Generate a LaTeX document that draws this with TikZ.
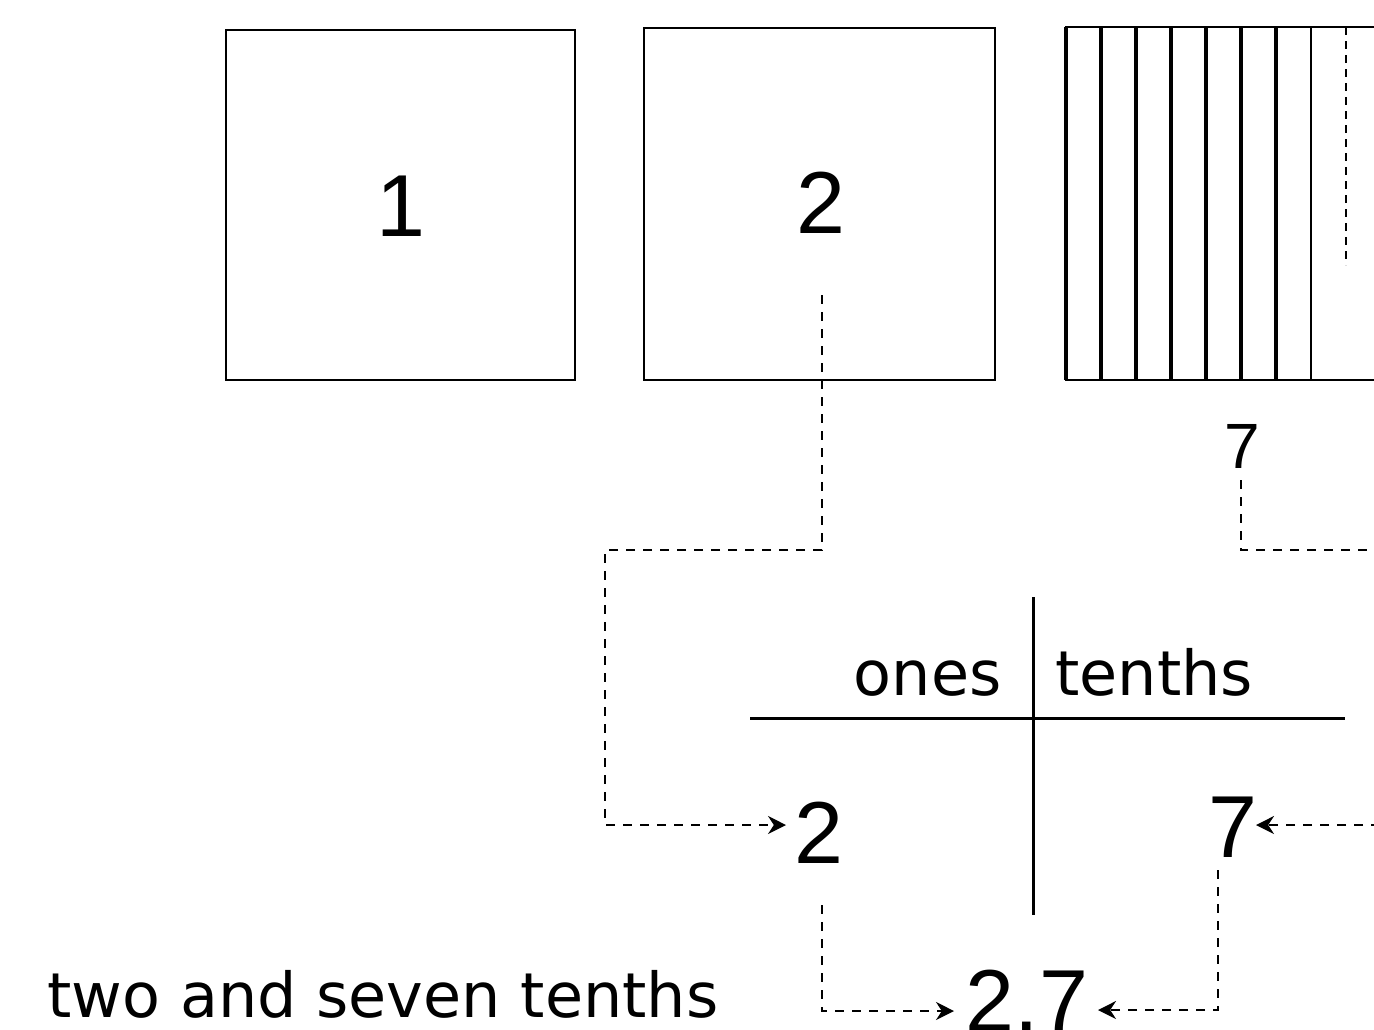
\documentclass[tikz,border=0pt]{standalone}
\usepackage{fontspec}
\setmainfont{DejaVu Sans}
\newfontfamily\digitfont{Liberation Sans}
\usetikzlibrary{arrows.meta}
\begin{document}
\begin{tikzpicture}[x=0.5pt,y=-0.5pt,
  boxline/.style={line width=1.2pt},
  stripline/.style={line width=1.6pt},
  tabline/.style={line width=1.5pt},
  link/.style={line width=0.9pt, dash pattern=on 4.5pt off 4pt},
  linkarrow/.style={link, -{Stealth[length=9pt,width=9pt]}},
  big/.style={font=\digitfont\fontsize{44}{50}\selectfont, inner sep=0pt, anchor=base},
  mid/.style={font=\fontsize{31}{36}\selectfont, inner sep=0pt, text depth=0pt},
  midd/.style={font=\digitfont\fontsize{32}{36}\selectfont, inner sep=0pt, anchor=base},
]
\useasboundingbox (0,0) rectangle (1374,1029);
\clip (0,0) rectangle (1374,1029);
\fill[white] (0,0) rectangle (1374,1029);
% unit squares
\draw[boxline] (226,30) rectangle (575,380);
\draw[boxline] (644,28) rectangle (995,380);
\draw[boxline] (1066,27) rectangle (1416,380);
\foreach \x in {1066,1101,...,1276} \draw[stripline] (\x,27) -- (\x,380);
\draw[boxline] (1311,27) -- (1311,380);
\draw[line width=0.8pt, dash pattern=on 4pt off 3pt] (1346,27) -- (1346,265);
% labels
\node[big] (one) at (401,236) {1};
\node[big] (two) at (821,233) {2};
\node[midd] (sevtop) at (1242,468) {7};
\node[mid, anchor=base east] (ones) at (1002,695) {ones};
\node[mid, anchor=base west] (tenths) at (1055,695) {tenths};
\node[big] (tabtwo) at (819,863) {2};
\node[big] (tabsev) at (1233,857) {7};
\node[big] (result) at (1027,1031) {2.7};
\node[mid, anchor=base west] (words) at (47,1017) {two and seven tenths};
% place value table
\coordinate (hl) at (750,718);
\coordinate (hr) at (1345,718);
\coordinate (vt) at (1033,597);
\coordinate (vb) at (1033,915);
\draw[tabline] (hl) -- (hr);
\draw[tabline] (vt) -- (vb);
% connector from the ones square to the table
\coordinate (a0) at (822,295);
\coordinate (a1) at (822,550);
\coordinate (a2) at (605,550);
\coordinate (a3) at (605,825);
\coordinate (a4) at (786,825);
\draw[linkarrow] (a0) -- (a1) -- (a2) -- (a3) -- (a4);
% connector from the tenths label
\coordinate (b0) at (1241,480);
\coordinate (b1) at (1241,550);
\coordinate (b2) at (1380,550);
\draw[link] (b0) -- (b1) -- (b2);
\coordinate (c0) at (1380,825);
\coordinate (c1) at (1256,825);
\draw[linkarrow] (c0) -- (c1);
% connectors to the decimal
\coordinate (d0) at (822,905);
\coordinate (d1) at (822,1011);
\coordinate (d2) at (954,1011);
\draw[linkarrow] (d0) -- (d1) -- (d2);
\coordinate (e0) at (1218,870);
\coordinate (e1) at (1218,1010);
\coordinate (e2) at (1098,1010);
\draw[linkarrow] (e0) -- (e1) -- (e2);
\end{tikzpicture}
\end{document}
